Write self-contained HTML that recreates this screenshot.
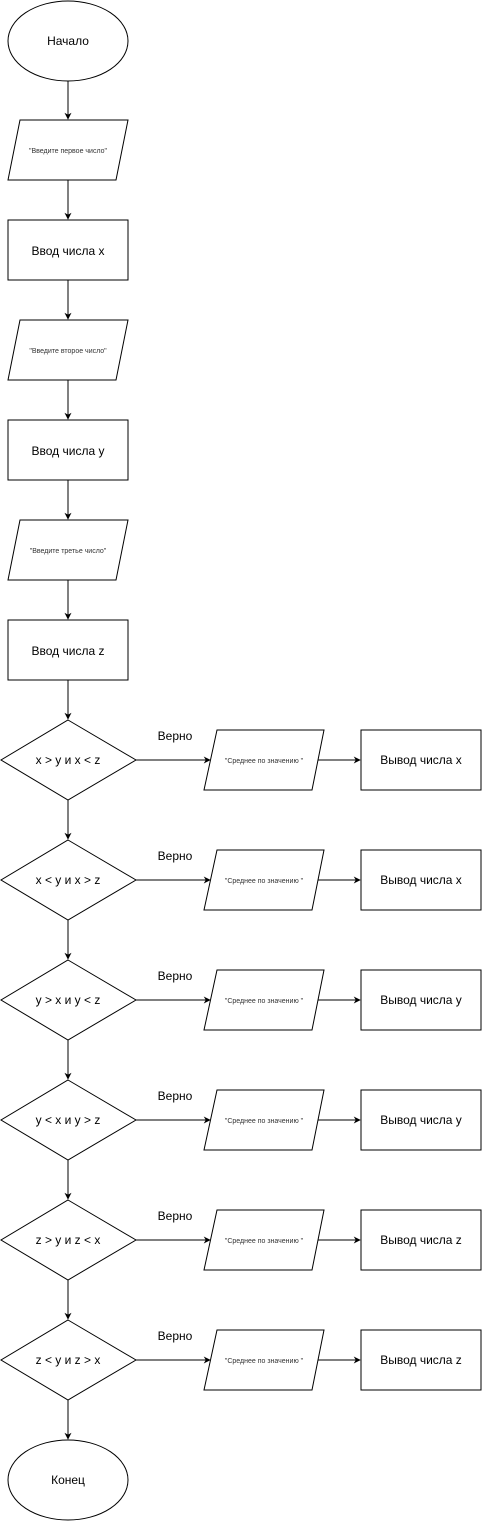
<!DOCTYPE html>
<html><head><meta charset="utf-8"><style>body{margin:0;background:#fff}svg{display:block}text{font-family:"Liberation Sans",sans-serif}</style></head><body>
<svg width="482" height="1521" viewBox="0 0 482 1521" xmlns="http://www.w3.org/2000/svg">
<defs><marker id="a" viewBox="0 0 10 10" refX="9" refY="5" markerWidth="7" markerHeight="7" orient="auto"><path d="M0,0 L10,5 L0,10 L3,5 z" fill="#000"/></marker></defs>
<g fill="#fff" stroke="#000" stroke-width="1">
<ellipse cx="68" cy="41" rx="60" ry="40"/>
<polygon points="20,120 128,120 116,180 8,180"/>
<rect x="8" y="220" width="120" height="60"/>
<polygon points="20,320 128,320 116,380 8,380"/>
<rect x="8" y="420" width="120" height="60"/>
<polygon points="20,520 128,520 116,580 8,580"/>
<rect x="8" y="620" width="120" height="60"/>
<ellipse cx="68" cy="1480" rx="60" ry="40"/>
</g>
<g stroke="#000" fill="none">
<line x1="68" y1="81" x2="68" y2="119" marker-end="url(#a)"/>
<line x1="68" y1="180" x2="68" y2="219" marker-end="url(#a)"/>
<line x1="68" y1="280" x2="68" y2="319" marker-end="url(#a)"/>
<line x1="68" y1="380" x2="68" y2="419" marker-end="url(#a)"/>
<line x1="68" y1="480" x2="68" y2="519" marker-end="url(#a)"/>
<line x1="68" y1="580" x2="68" y2="619" marker-end="url(#a)"/>
<line x1="68" y1="680" x2="68" y2="719" marker-end="url(#a)"/>
<line x1="68" y1="1400" x2="68" y2="1439" marker-end="url(#a)"/>
</g>
<g font-size="12" text-anchor="middle">
<text x="68" y="45">Начало</text>
<text x="68" y="255">Ввод числа x</text>
<text x="68" y="455">Ввод числа y</text>
<text x="68" y="655">Ввод числа z</text>
<text x="68" y="1484">Конец</text>
</g>
<g font-size="7" text-anchor="middle" fill="#333">
<text x="68" y="153">"Введите первое число"</text>
<text x="68" y="353">"Введите второе число"</text>
<text x="68" y="553">"Введите третье число"</text>
</g>
<g id="r0">
<polygon points="68,720 136,760 68,800 1,760" fill="#fff" stroke="#000"/>
<line x1="136" y1="760" x2="210" y2="760" stroke="#000" marker-end="url(#a)"/>
<polygon points="217,730 324,730 312,790 204,790" fill="#fff" stroke="#000"/>
<line x1="318" y1="760" x2="360" y2="760" stroke="#000" marker-end="url(#a)"/>
<rect x="361" y="730" width="120" height="60" fill="#fff" stroke="#000"/>
<text x="175" y="740" font-size="12" text-anchor="middle">Верно</text>
<text x="264" y="763" font-size="7" text-anchor="middle" fill="#333">"Среднее по значению "</text>
</g>
<g font-size="12" text-anchor="middle">
<text x="68" y="764">x &gt; y и x &lt; z</text>
<text x="421" y="764">Вывод числа x</text>
</g>
<use href="#r0" y="120"/><use href="#r0" y="240"/><use href="#r0" y="360"/><use href="#r0" y="480"/><use href="#r0" y="600"/>
<g stroke="#000">
<line x1="68" y1="800" x2="68" y2="839" marker-end="url(#a)"/>
<line x1="68" y1="920" x2="68" y2="959" marker-end="url(#a)"/>
<line x1="68" y1="1040" x2="68" y2="1079" marker-end="url(#a)"/>
<line x1="68" y1="1160" x2="68" y2="1199" marker-end="url(#a)"/>
<line x1="68" y1="1280" x2="68" y2="1319" marker-end="url(#a)"/>
</g>
<g font-size="12" text-anchor="middle">
<text x="68" y="884">x &lt; y и x &gt; z</text><text x="421" y="884">Вывод числа x</text>
<text x="68" y="1004">y &gt; x и y &lt; z</text><text x="421" y="1004">Вывод числа y</text>
<text x="68" y="1124">y &lt; x и y &gt; z</text><text x="421" y="1124">Вывод числа y</text>
<text x="68" y="1244">z &gt; y и z &lt; x</text><text x="421" y="1244">Вывод числа z</text>
<text x="68" y="1364">z &lt; y и z &gt; x</text><text x="421" y="1364">Вывод числа z</text>
</g>
</svg>
</body></html>
